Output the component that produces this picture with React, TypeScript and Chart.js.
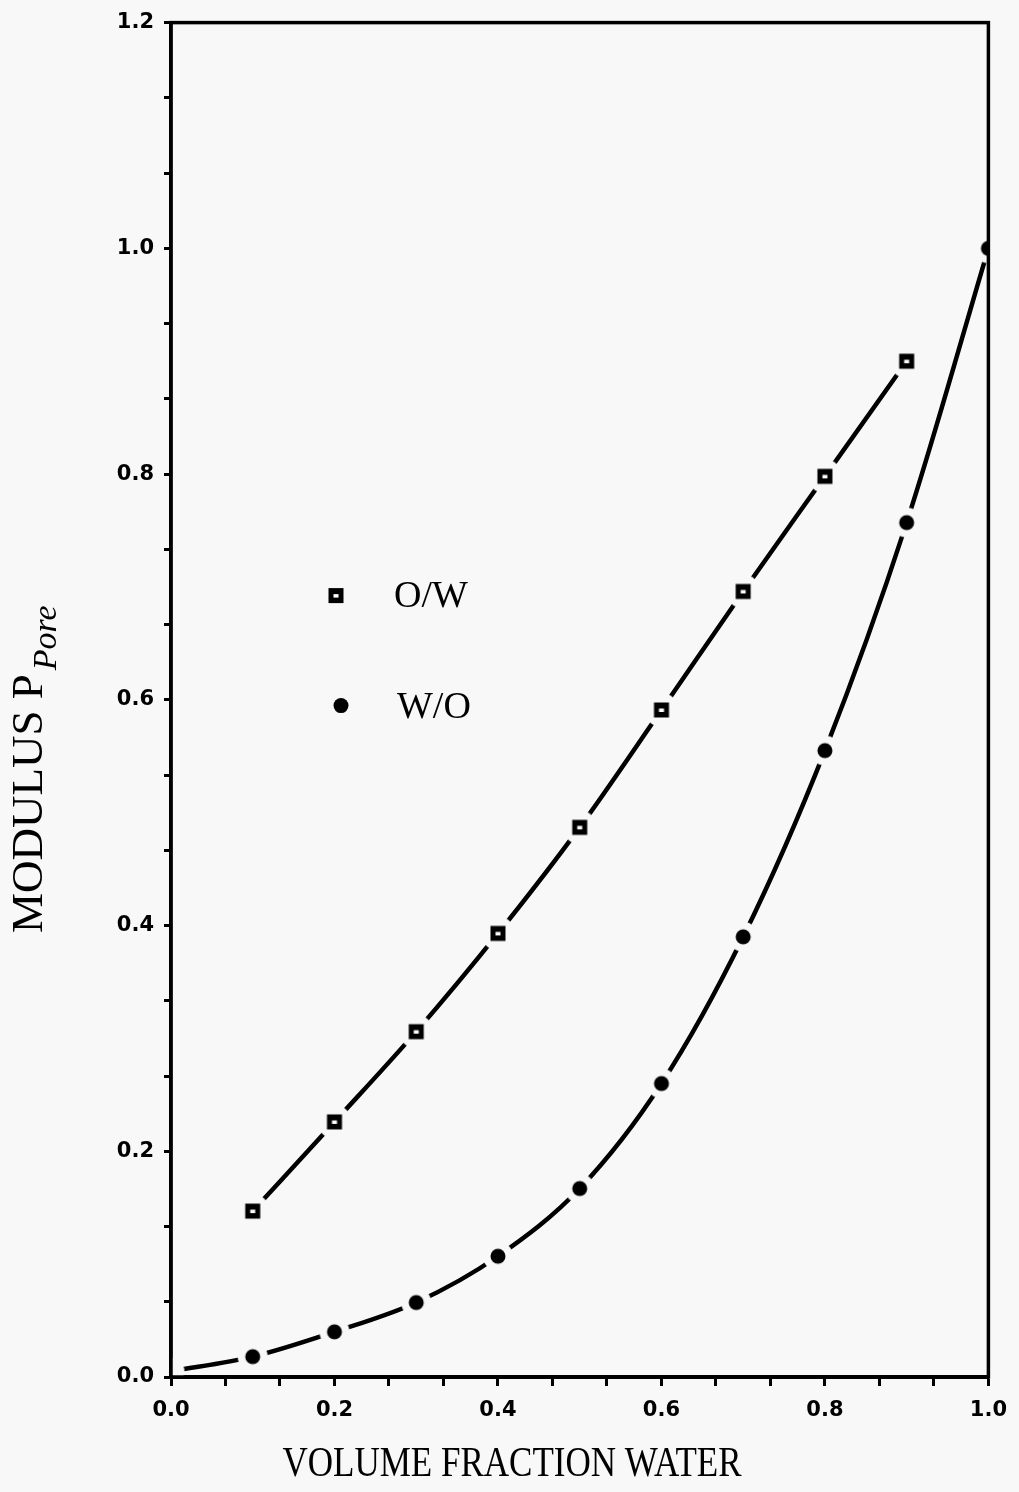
import React, { useEffect, useRef } from "react";
import { Chart, registerables } from "chart.js";

Chart.register(...registerables);

// ---- data ----
const owX = [0.1, 0.2, 0.3, 0.4, 0.5, 0.6, 0.7, 0.8, 0.9];
const owY = [0.147, 0.226, 0.306, 0.393, 0.487, 0.591, 0.696, 0.798, 0.9];
const woX = [0.0, 0.1, 0.2, 0.3, 0.4, 0.5, 0.6, 0.7, 0.8, 0.9, 1.0];
const woY = [0.005, 0.018, 0.04, 0.066, 0.107, 0.167, 0.26, 0.39, 0.555, 0.757, 1.0];
const xMajorTicks = [0.0, 0.2, 0.4, 0.6, 0.8, 1.0];
const xTickLabels = ["0.0", "0.2", "0.4", "0.6", "0.8", "1.0"];
const yMajorTicks = [0.0, 0.2, 0.4, 0.6, 0.8, 1.0, 1.2];
const yTickLabels = ["0.0", "0.2", "0.4", "0.6", "0.8", "1.0", "1.2"];
const seriesNames = ["O/W", "W/O"];
const xTitle = "VOLUME FRACTION WATER";
const yTitleMain = "MODULUS P";
const yTitleSub = "Pore";

const BG = "#f8f8f8";
const INK = "#000000";

function withMinors(majors: number[]): number[] {
  const out: number[] = [];
  for (let i = 0; i < majors.length; i++) {
    out.push(majors[i]);
    if (i < majors.length - 1) {
      const step = (majors[i + 1] - majors[i]) / 3;
      out.push(majors[i] + step, majors[i] + 2 * step);
    }
  }
  return out;
}

function labelFor(majors: number[], labels: string[], v: number): string {
  const i = majors.findIndex((m) => Math.abs(m - v) < 1e-6);
  return i >= 0 ? labels[i] : "";
}

const toPts = (xs: number[], ys: number[]) => xs.map((x, i) => ({ x, y: ys[i] }));

// marker sprite: background "gap" disc + glyph
function makeSprite(haloR: number, kind: "square" | "dot" | "none"): HTMLCanvasElement {
  const size = Math.ceil(haloR * 2 + 2);
  const cv = document.createElement("canvas");
  cv.width = size;
  cv.height = size;
  const c = cv.getContext("2d")!;
  const m = size / 2;
  c.fillStyle = BG;
  c.beginPath();
  c.arc(m, m, haloR, 0, Math.PI * 2);
  c.fill();
  c.fillStyle = INK;
  if (kind === "square") {
    c.fillRect(m - 7.5, m - 7.5, 15, 15);
    c.fillStyle = "#ffffff";
    c.fillRect(m - 2.5, m - 1.5, 5, 3.5);
  } else if (kind === "dot") {
    c.beginPath();
    c.arc(m, m, 7.5, 0, Math.PI * 2);
    c.fill();
  }
  return cv;
}

export default function App() {
  const ref = useRef<HTMLCanvasElement | null>(null);

  useEffect(() => {
    document.body.style.margin = "0";
    document.body.style.background = BG;
    const canvas = ref.current!;

    const sqSprite = makeSprite(17, "square");
    const dotSprite = makeSprite(15, "dot");
    const gapSprite = makeSprite(13.5, "none");

    const decor = {
      id: "decor",
      beforeDraw(chart: any) {
        const c = chart.ctx;
        c.save();
        c.fillStyle = BG;
        c.fillRect(0, 0, chart.width, chart.height);
        c.restore();
      },
      afterDatasetsDraw(chart: any) {
        const c = chart.ctx;
        const a = chart.chartArea;
        c.save();
        c.strokeStyle = INK;
        c.lineWidth = 3.5;
        c.lineCap = "square";
        c.strokeRect(a.left, a.top, a.right - a.left, a.bottom - a.top);
        c.restore();
      },
      afterDraw(chart: any) {
        const c = chart.ctx;
        const a = chart.chartArea;
        c.save();
        c.fillStyle = INK;
        // legend
        const sx = a.left + 165, sy = a.top + 573;
        c.fillRect(sx - 7.5, sy - 7.5, 15, 15);
        c.fillStyle = "#ffffff";
        c.fillRect(sx - 2.5, sy - 1.5, 5, 3.5);
        c.fillStyle = INK;
        c.beginPath();
        c.arc(a.left + 170, a.top + 683, 7.5, 0, Math.PI * 2);
        c.fill();
        c.font = '38px "Liberation Serif"';
        c.textBaseline = "middle";
        c.textAlign = "left";
        c.fillText(seriesNames[0], a.left + 223, a.top + 574);
        c.fillText(seriesNames[1], a.left + 226, a.top + 685);

        // x title (condensed)
        c.font = '42px "Liberation Serif"';
        c.textBaseline = "alphabetic";
        c.textAlign = "center";
        const w = c.measureText(xTitle).width;
        c.save();
        c.translate(512, 1476);
        c.scale(459 / w, 1);
        c.fillText(xTitle, 0, 0);
        c.restore();

        // y title
        c.save();
        c.translate(42, 933);
        c.rotate(-Math.PI / 2);
        c.textAlign = "left";
        c.font = '45px "Liberation Serif"';
        c.fillText(yTitleMain, 0, 0);
        const mw = c.measureText(yTitleMain).width;
        c.font = 'italic 34px "Liberation Serif"';
        c.fillText(yTitleSub, mw + 4, 14);
        c.restore();
        c.restore();
      },
    };

    const tickFont = { family: '"DejaVu Sans"', size: 21, weight: "bold" as const };

    const chart = new Chart(canvas, {
      type: "scatter",
      data: {
        datasets: [
          {
            label: seriesNames[0],
            data: toPts(owX, owY),
            showLine: true,
            borderColor: INK,
            borderWidth: 4.5,
            borderCapStyle: "round",
            cubicInterpolationMode: "monotone",
            pointStyle: sqSprite,
            pointRadius: 17,
            clip: 0,
          } as any,
          {
            label: seriesNames[1],
            data: toPts(woX, woY),
            showLine: true,
            borderColor: INK,
            borderWidth: 4.5,
            borderCapStyle: "round",
            cubicInterpolationMode: "monotone",
            pointStyle: (ctx: any) => (ctx.dataIndex === 0 ? gapSprite : dotSprite),
            pointRadius: 15,
            clip: 0,
          } as any,
        ],
      },
      options: {
        animation: false,
        responsive: false,
        maintainAspectRatio: false,
        layout: { padding: { top: 20, right: 27, bottom: 0, left: 0 } },
        plugins: { legend: { display: false }, tooltip: { enabled: false } },
        scales: {
          x: {
            type: "linear",
            min: 0,
            max: 1,
            afterBuildTicks: (s: any) => {
              s.ticks = withMinors(xMajorTicks).map((v) => ({ value: v }));
            },
            afterFit: (s: any) => {
              s.height = 115;
            },
            ticks: {
              autoSkip: false,
              maxRotation: 0,
              color: INK,
              font: tickFont,
              padding: 12,
              callback: (v: any) => labelFor(xMajorTicks, xTickLabels, Number(v)),
            },
            grid: {
              drawOnChartArea: false,
              drawTicks: true,
              tickLength: 9,
              tickWidth: 3,
              tickColor: INK,
            },
            border: { display: true, color: INK, width: 4 },
          },
          y: {
            type: "linear",
            min: 0,
            max: 1.2,
            afterBuildTicks: (s: any) => {
              s.ticks = withMinors(yMajorTicks).map((v) => ({ value: v }));
            },
            afterFit: (s: any) => {
              s.width = 171;
            },
            ticks: {
              autoSkip: false,
              color: INK,
              font: tickFont,
              padding: 10,
              callback: (v: any) => labelFor(yMajorTicks, yTickLabels, Number(v)),
            },
            grid: {
              drawOnChartArea: false,
              drawTicks: true,
              tickLength: 7,
              tickWidth: 3,
              tickColor: INK,
            },
            border: { display: true, color: INK, width: 3.5 },
          },
        },
      },
      plugins: [decor],
    } as any);

    return () => chart.destroy();
  }, []);

  return (
    <div style={{ width: 1019, height: 1492 }}>
      <canvas ref={ref} width={1019} height={1492} style={{ display: "block", width: 1019, height: 1492 }} />
    </div>
  );
}
